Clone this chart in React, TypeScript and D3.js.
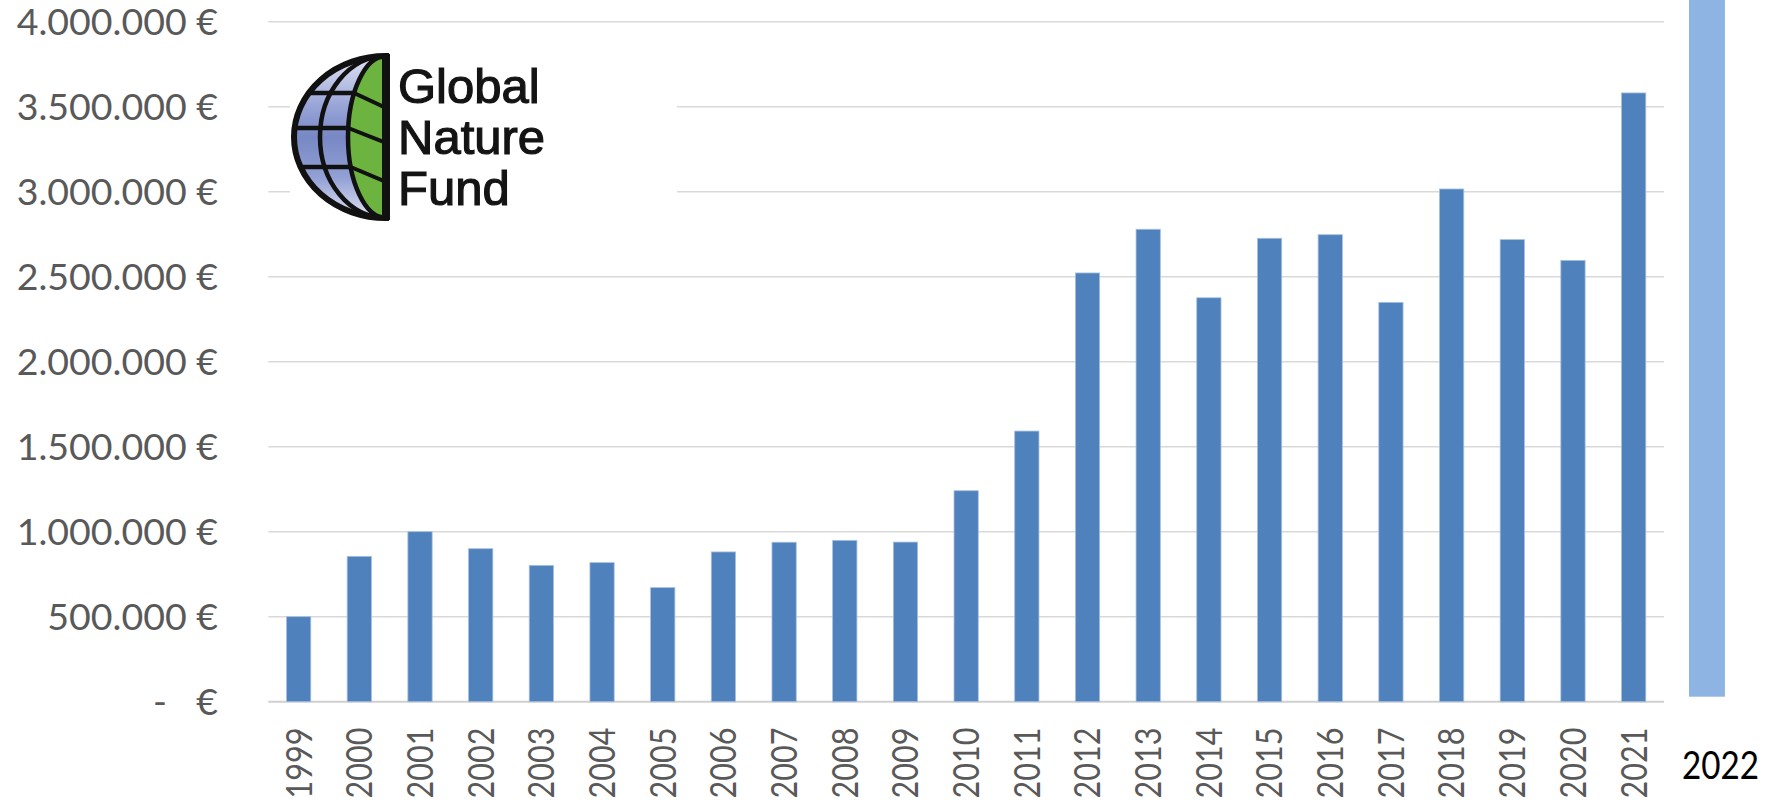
import React from 'react';
import * as d3 from 'd3';

const years = ['1999','2000','2001','2002','2003','2004','2005','2006','2007','2008','2009','2010','2011','2012','2013','2014','2015','2016','2017','2018','2019','2020','2021'];
const funding = [500000, 855000, 1000000, 900000, 802000, 818000, 671000, 881000, 938000, 949000, 939000, 1241000, 1592000, 2522000, 2779000, 2376000, 2726000, 2747000, 2349000, 3016000, 2718000, 2596000, 3581000];
const yTicks = [0, 500000, 1000000, 1500000, 2000000, 2500000, 3000000, 3500000, 4000000];
const projectionYear = '2022';
const projectionValue = 4200000;
const logoWords = ['Global', 'Nature', 'Fund'];

const W = 1775;
const H = 806;
const plotLeft = 268.3;
const plotRight = 1664;
const plotBottom = 701.7;
const plotTop = 21.7;
const labelRight = 218;

const deLocale = d3.formatLocale({ decimal: ',', thousands: '.', grouping: [3], currency: ['', ' €'] });
const fmt = deLocale.format('$,.0f');

export default function App() {
  const x = d3.scaleBand<string>().domain(years).range([plotLeft, plotRight]).paddingInner(0.6).paddingOuter(0.3);
  const y = d3.scaleLinear().domain([0, 4000000]).range([plotBottom, plotTop]);
  const bw = x.bandwidth();

  // logo geometry
  const gcx = 386, gcy = 137, grx = 92, gry = 81;
  const rxA = 66, rxB = 38;
  const lats = [93, 128, 167];
  const ex = (rx: number, yy: number) => gcx - rx * Math.sqrt(Math.max(0, 1 - ((yy - gcy) / gry) ** 2));
  const halfEllipse = (rx: number) => `M${gcx},${gcy - gry} A${rx},${gry} 0 0 0 ${gcx},${gcy + gry}`;

  const projX = plotRight + 25;
  const projW = bw * 1.48;

  return (
    <svg width={W} height={H} style={{ position: 'absolute', left: 0, top: 0, background: '#fff' }}>
      <defs>
        <linearGradient id="globeBlue" x1="0" y1="0" x2="0" y2="1">
          <stop offset="0%" stopColor="#e2e4f4" />
          <stop offset="30%" stopColor="#9aa6d8" />
          <stop offset="50%" stopColor="#7788c4" />
          <stop offset="75%" stopColor="#92a0d4" />
          <stop offset="100%" stopColor="#e0e2f3" />
        </linearGradient>
        <clipPath id="globeClip">
          <path d={halfEllipse(grx) + ' Z'} />
        </clipPath>
      </defs>
      <rect x={0} y={0} width={W} height={H} fill="#fff" />

      {/* gridlines */}
      {yTicks.map((t) => (
        <line key={'g' + t} x1={plotLeft} x2={plotRight} y1={y(t)} y2={y(t)}
          stroke={t === 0 ? '#d0d0d0' : '#d9d9d9'} strokeWidth={t === 0 ? 2 : 1.6} />
      ))}

      {/* y labels */}
      {yTicks.map((t) => t === 0 ? (
        <g key={'l' + t} fontFamily="Lato" fontSize={37.5} fill="#595959">
          <text x={labelRight - 51} y={y(t)} dy="0.358em" textAnchor="end">-</text>
          <text x={labelRight} y={y(t)} dy="0.358em" textAnchor="end">€</text>
        </g>
      ) : (
        <text key={'l' + t} x={labelRight} y={y(t)} dy="0.358em" textAnchor="end"
          fontFamily="Lato" fontSize={37.5} fill="#595959">{fmt(t)}</text>
      ))}

      {/* logo */}
      <g>
        <rect x={290} y={38} width={387} height={195} fill="#fff" />
        <g clipPath="url(#globeClip)">
          <path d={halfEllipse(grx) + ' Z'} fill="url(#globeBlue)" />
          <path d={halfEllipse(rxB) + ' Z'} fill="#6db33f" />
          {lats.map((ly) => (
            <line key={'lat' + ly} x1={ex(grx + 5, ly)} x2={ex(rxB, ly)} y1={ly} y2={ly} stroke="#111" strokeWidth={4.5} />
          ))}
          {lats.map((ly) => (
            <line key={'vein' + ly} x1={ex(rxB, ly)} x2={gcx} y1={ly} y2={ly + 15} stroke="#111" strokeWidth={4} />
          ))}
        </g>
        <path d={halfEllipse(rxA)} fill="none" stroke="#111" strokeWidth={4.5} />
        <path d={halfEllipse(rxB)} fill="none" stroke="#111" strokeWidth={4.5} />
        <path d={halfEllipse(grx) + ' Z'} fill="none" stroke="#111" strokeWidth={6} strokeLinejoin="miter" />
        <line x1={gcx} x2={gcx} y1={gcy - gry - 2} y2={gcy + gry + 2} stroke="#111" strokeWidth={8} />
        {logoWords.map((w, i) => (
          <text key={w} x={398} y={103 + i * 51} fontFamily="Liberation Sans, Arial" fontSize={49}
            fill="#141414" stroke="#141414" strokeWidth={1.2}>{w}</text>
        ))}
      </g>

      {/* bars */}
      {years.map((yr, i) => (
        <rect key={yr} x={x(yr)} y={y(funding[i])} width={bw} height={y(0) - y(funding[i])}
          fill="#4f81bd" stroke="#a7bfe0" strokeWidth={0.8} />
      ))}

      {/* projection bar */}
      <rect x={projX} y={y(projectionValue)} width={projW} height={y(0) - 5 - y(projectionValue)} fill="#8eb4e3" />

      {/* x labels */}
      {years.map((yr) => {
        const cx = (x(yr) as number) + bw / 2;
        const ty = 727.5;
        return (
          <text key={'x' + yr} x={cx} y={ty} dy="0.358em" transform={`rotate(-90 ${cx} ${ty})`}
            textAnchor="end" fontFamily="Lato" fontSize={36} fill="#595959"
            textLength={71} lengthAdjust="spacingAndGlyphs">{yr}</text>
        );
      })}
      <text x={1682} y={779} fontFamily="Lato" fontSize={37.7} fill="#000"
        textLength={77} lengthAdjust="spacingAndGlyphs">{projectionYear}</text>
    </svg>
  );
}
